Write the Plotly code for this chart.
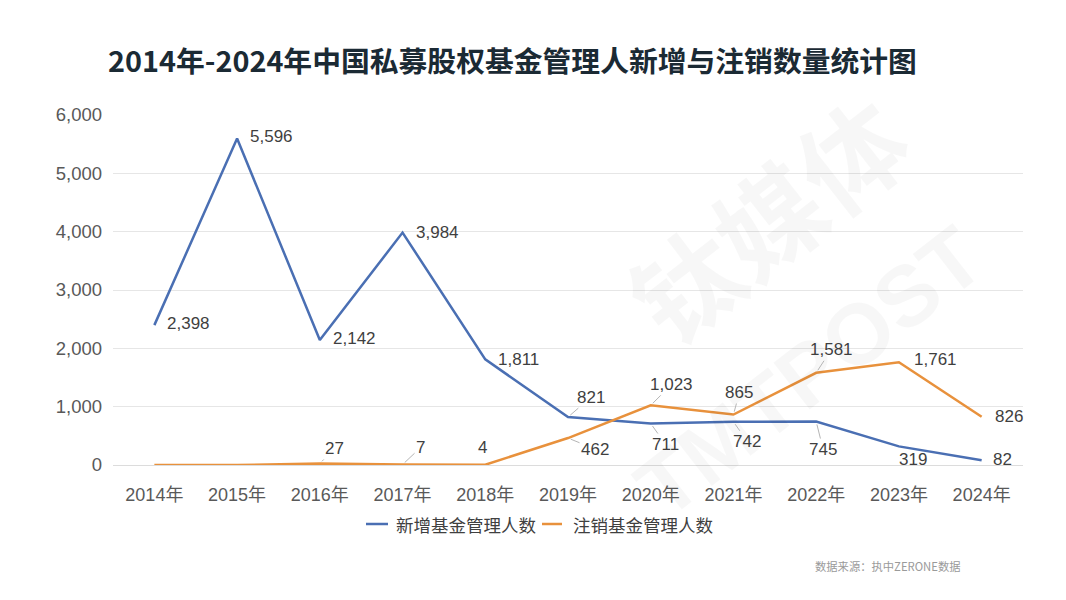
import plotly.graph_objects as go

years = ["2014年", "2015年", "2016年", "2017年", "2018年", "2019年",
         "2020年", "2021年", "2022年", "2023年", "2024年"]
new_managers = [2398, 5596, 2142, 3984, 1811, 821, 711, 742, 745, 319, 82]
cancelled_managers = [0, 0, 27, 7, 4, 462, 1023, 865, 1581, 1761, 826]
cancelled_labeled = [False, False, True, True, True, True, True, True, True, True, True]

series_names = ["新增基金管理人数", "注销基金管理人数"]
title_text = "2014年-2024年中国私募股权基金管理人新增与注销数量统计图"
source_text = "数据来源：执中ZERONE数据"
watermark_cn = "钛媒体"
watermark_en = "TMTPOST"

BLUE = "#4a6fb3"
ORANGE = "#e8913c"
series_colors = [BLUE, ORANGE]
FONT = "Liberation Sans, Arial, Noto Sans CJK SC, sans-serif"
CJK_FONT = "Noto Sans CJK SC, Liberation Sans, sans-serif"
LABEL_COLOR = "#3f3f3f"

# page body has an 8px margin; figure is sized/positioned to compensate
W, H = 1058, 592
ML, MR, MT, MB = 105, 43, 107, 135
PW = W - ML - MR
PH = H - MT - MB


def px_x(px):
    return (px - ML) / PW


def px_y(py):
    return (MT + PH - py) / PH


# label placement styles: ("r", xshift, yshift) right of point;
# ("a", ax, ay, leader) offset box with optional leader line
new_label_style = [("r", 11, -2), ("r", 11, -2), ("r", 11, -2), ("r", 11, 0), ("r", 11, 0),
                   ("a", 23, -20, True), ("a", 15, 21, True), ("a", 14, 20, True),
                   ("a", 7, 28, True), ("a", 14, 13, False), ("r", 9, -1)]
cancel_label_style = [None, None, ("a", 15, -15, True), ("a", 18, -17, True), ("a", -3, -17, False),
                      ("a", 27, 11, True), ("a", 21, -21, True), ("a", 6, -22, True),
                      ("a", 15, -23, True), ("r", 13, -3), ("r", 11, 0)]

fig = go.Figure()
fig.add_trace(go.Scatter(x=years, y=new_managers, mode="lines", name=series_names[0],
                         line=dict(color=BLUE, width=2.5)))
fig.add_trace(go.Scatter(x=years, y=cancelled_managers, mode="lines", name=series_names[1],
                         line=dict(color=ORANGE, width=2.5)))

# faint watermark (centres given in page pixels)
fig.add_annotation(xref="paper", yref="paper", x=px_x(758), y=px_y(209), showarrow=False,
                   xanchor="center", yanchor="middle",
                   text=watermark_cn, textangle=-38,
                   font=dict(family=CJK_FONT, size=105, color="rgba(0,0,0,0.032)", weight="bold"))
fig.add_annotation(xref="paper", yref="paper", x=px_x(801), y=px_y(364), showarrow=False,
                   xanchor="center", yanchor="middle",
                   text=watermark_en, textangle=-38,
                   font=dict(family=FONT, size=86, color="rgba(0,0,0,0.03)", weight="bold"))


def add_labels(values, styles, labeled=None):
    for i, (yr, v) in enumerate(zip(years, values)):
        st = styles[i]
        if st is None or (labeled is not None and not labeled[i]):
            continue
        txt = f"{v:,}"
        if st[0] == "r":
            fig.add_annotation(x=yr, y=v, text=txt, showarrow=False, xanchor="left",
                               yanchor="middle", xshift=st[1], yshift=-st[2],
                               font=dict(family=FONT, size=17, color=LABEL_COLOR))
        else:
            fig.add_annotation(x=yr, y=v, text=txt, showarrow=True, ax=st[1], ay=st[2],
                               xanchor="center", yanchor="middle",
                               arrowhead=0, arrowwidth=1, standoff=3,
                               arrowcolor="#b5b5b5" if st[3] else "rgba(0,0,0,0)",
                               font=dict(family=FONT, size=17, color=LABEL_COLOR))


add_labels(new_managers, new_label_style)
add_labels(cancelled_managers, cancel_label_style, cancelled_labeled)

# legend drawn as line swatches + text (positions in page pixels)
legend_y = 516
legend_items = [(358, 380, 386), (534, 554, 563)]  # swatch x0, swatch x1, text x
for (x0, x1, tx), name, col in zip(legend_items, series_names, series_colors):
    fig.add_shape(type="line", xref="paper", yref="paper",
                  x0=px_x(x0), x1=px_x(x1), y0=px_y(legend_y), y1=px_y(legend_y),
                  line=dict(color=col, width=2.5))
    fig.add_annotation(xref="paper", yref="paper", x=px_x(tx), y=px_y(legend_y),
                       xanchor="left", yanchor="middle", showarrow=False, text=name,
                       font=dict(family=CJK_FONT, size=17.5, color="#404040"))

fig.update_layout(
    width=W, height=H,
    paper_bgcolor="white", plot_bgcolor="white",
    margin=dict(l=ML, r=MR, t=MT, b=MB),
    title=dict(text=title_text, xref="container", yref="container",
               x=100 / W, xanchor="left", y=1 - 54 / H, yanchor="middle",
               font=dict(family=CJK_FONT, size=28.8, color="#1b2a34", weight="bold")),
    showlegend=False,
    xaxis=dict(type="category", range=[-0.5, 10.5], showgrid=False, zeroline=False,
               showline=True, linecolor="#dcdcdc", linewidth=1, ticks="",
               tickfont=dict(family=FONT, size=18, color="#595959"),
               ticklabelstandoff=13, fixedrange=True),
    yaxis=dict(range=[0, 6000], dtick=1000, tickformat=",", showgrid=True,
               gridcolor="#e6e6e6", gridwidth=1, zeroline=False, showline=False,
               ticks="", tickfont=dict(family=FONT, size=18.5, color="#595959"),
               ticklabelstandoff=10, fixedrange=True),
)

fig.add_annotation(xref="paper", yref="paper",
                   x=px_x(955), y=px_y(558),
                   xanchor="right", yanchor="middle", showarrow=False, text=source_text,
                   font=dict(family=CJK_FONT, size=11.3, color="#9a9a9a"))

fig.write_html("out.html")
